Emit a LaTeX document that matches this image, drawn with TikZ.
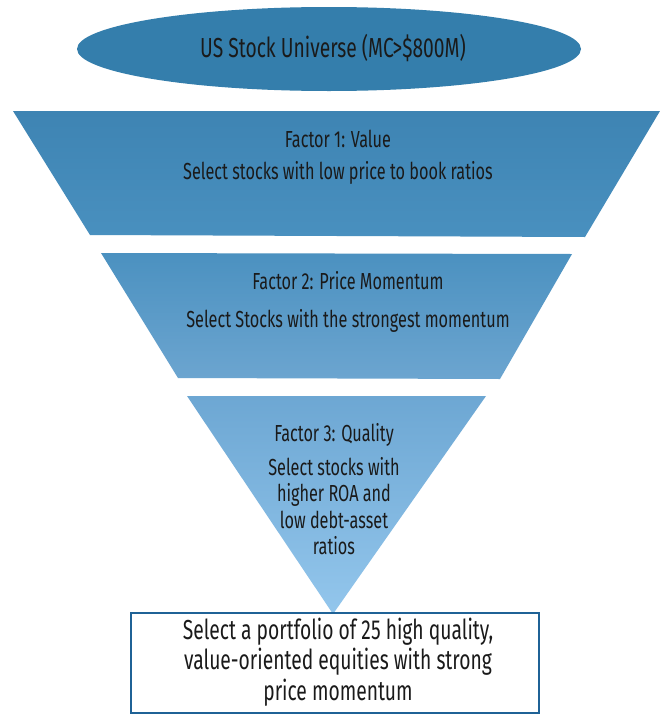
\documentclass[tikz,border=0pt]{standalone}
\usepackage{fontspec}
\setmainfont[FakeStretch=0.7]{Fira Sans}
\usetikzlibrary{shapes.geometric}
\definecolor{ellblue}{HTML}{347EAC}
\definecolor{tA}{HTML}{3E84B3}
\definecolor{tB}{HTML}{4990BF}
\definecolor{tC}{HTML}{4B91C0}
\definecolor{tD}{HTML}{6CA5D0}
\definecolor{tE}{HTML}{6DA7D3}
\definecolor{tF}{HTML}{93C6EC}
\definecolor{boxline}{HTML}{1F6296}
\definecolor{txt}{HTML}{1A1A1A}
\tikzset{
  lbl/.style={text=txt, align=center, font=\fontsize{23.2}{30}\selectfont, inner sep=0pt},
  biglbl/.style={text=txt, align=center, font=\fontsize{27.5}{30.5}\selectfont, inner sep=0pt},
}
\begin{document}
\begin{tikzpicture}[x=1pt,y=-1pt]
\useasboundingbox[fill=white] (0,0) rectangle (663,715);
% ellipse
\node[ellipse, fill=ellblue, minimum width=504pt, minimum height=84pt, inner sep=0pt] (uni) at (329,49) {};
\node[biglbl] (unitxt) at (333,48) {US Stock Universe (MC>\$800M)};
% trapezoid 1
\shade[top color=tA, bottom color=tB] (13,111) -- (660,111) -- (585,237) -- (90,235) -- cycle;
\node[lbl, font=\fontsize{23.2}{32}\selectfont] (f1) at (338,157) {Factor 1: Value\\Select stocks with low price to book ratios};
% trapezoid 2
\shade[top color=tC, bottom color=tD] (101,253) -- (572,254) -- (500,379) -- (178,378) -- cycle;
\node[lbl, font=\fontsize{23.2}{38}\selectfont] (f2) at (348,302) {Factor 2: Price Momentum\\Select Stocks with the strongest momentum};
% triangle
\shade[top color=tE, bottom color=tF] (187,396) -- (486,396) -- (333,614) -- cycle;
\node[lbl] (f3) at (334,435) {Factor 3: Quality};
\node[lbl, font=\fontsize{23.2}{26.5}\selectfont] (f3b) at (334,506) {Select stocks with\\higher ROA and\\low debt-asset\\ratios};
% box
\node[draw=boxline, line width=2pt, fill=white, minimum width=408pt, minimum height=100pt, inner sep=0pt] (box) at (335,663) {};
\node[biglbl] (boxtxt) at (338,662) {Select a portfolio of 25 high quality,\\value-oriented equities with strong\\price momentum};
\end{tikzpicture}
\end{document}
